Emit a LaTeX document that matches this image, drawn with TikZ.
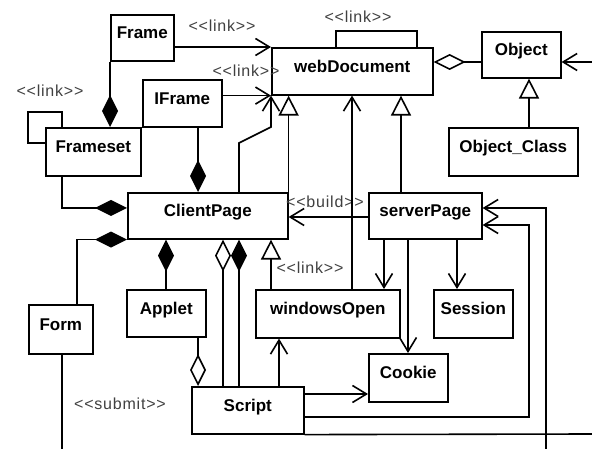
\documentclass[tikz,border=0pt]{standalone}
\usepackage{fontspec}
\setmainfont{Liberation Sans}
\newfontfamily\lblfont[LetterSpace=5]{Liberation Sans}
\usetikzlibrary{arrows.meta}
\begin{document}
\begin{tikzpicture}[x=1pt,y=-1pt, line width=1.6pt, line join=miter,
 cls/.style={draw, rectangle, inner sep=0pt, anchor=north west, font=\bfseries\fontsize{17pt}{17pt}\selectfont, text height=12pt, text depth=10pt},
 lbl/.style={inner sep=0pt, font=\lblfont\fontsize{16pt}{16pt}\selectfont, text=black!75},
 assoc/.style={-{Straight Barb[length=14pt,width=17pt]}},
 gen/.style={-{Triangle[open,length=20pt,width=20pt]}},
 comp/.style={{Diamond[length=32pt,width=16pt]}-},
 aggr/.style={{Diamond[open,length=32pt,width=16pt]}-}]
\fill[white] (0,0) rectangle (592,449);
\useasboundingbox (0,0) rectangle (592,449);
% classes
\node[cls, minimum width=63pt, minimum height=46pt] (frame) at (110,14) {Frame};
\node[cls, minimum width=161pt, minimum height=47pt] (web) at (271,47) {webDocument};
\node[cls, minimum width=79pt, minimum height=46pt] (obj) at (481,31) {Object};
\node[cls, minimum width=129pt, minimum height=48pt] (objc) at (448,127) {Object\_Class};
\node[cls, minimum width=79pt, minimum height=47pt] (iframe) at (142,79) {IFrame};
\node[cls, minimum width=95pt, minimum height=48pt] (fset) at (45,127) {Frameset};
\node[cls, minimum width=160pt, minimum height=46pt] (client) at (127,192) {ClientPage};
\node[cls, minimum width=113pt, minimum height=46pt] (server) at (368,192) {serverPage};
\node[cls, minimum width=64pt, minimum height=49pt] (form) at (28,304) {Form};
\node[cls, minimum width=79pt, minimum height=47pt] (applet) at (126,289) {Applet};
\node[cls, minimum width=144pt, minimum height=48pt] (wopen) at (255,289) {windowsOpen};
\node[cls, minimum width=79pt, minimum height=48pt] (session) at (433,289) {Session};
\node[cls, minimum width=79pt, minimum height=48pt] (cookie) at (368,353) {Cookie};
\node[cls, minimum width=112pt, minimum height=47pt] (script) at (191,386) {Script};
% labels
\node[lbl] (lk1) at (222,26) {<{}<link>{}>};
\node[lbl] (lk2) at (246,71) {<{}<link>{}>};
\node[lbl] (lk3) at (50,91) {<{}<link>{}>};
\node[lbl] (lk4) at (358,17) {<{}<link>{}>};
\node[lbl] (bld) at (325,202) {<{}<build>{}>};
\node[lbl] (lk5) at (310,268) {<{}<link>{}>};
\node[lbl] (sub) at (120,404) {<{}<submit>{}>};
% connectors
\draw[assoc] (frame.east |- web.north west) -- (web.north west);
\draw[assoc] (iframe.east |- web.south west) -- (web.south west);
\draw[assoc] (239,0 |- client.north) -- (239,143) -- (271,127) -- (web.south west);
\draw[gen] (client.north east) -- (client.north east |- web.south);
\draw[assoc] (352,0 |- wopen.north) -- (352,0 |- web.south);
\draw[gen] (401,0 |- server.north) -- (401,0 |- web.south);
\draw (336,0 |- web.north) -- (336,31) -- (417,31) -- (417,0 |- web.north);
\draw[aggr] (web.east |- 0,62) -- (obj.west |- 0,62);
\coordinate (objin) at (592,62);
\draw[assoc] (objin) -- (obj.east |- objin);
\draw[gen] (529,0 |- objc.north) -- (529,0 |- obj.south);
\draw (62,0 |- fset.north) -- (62,112) -- (28,112) -- (28,143) -- (fset.west |- 0,143);
\draw[comp] (frame.south west |- fset.north) -- (frame.south west);
\draw[comp] (client.west |- 0,208) -- (62,208) -- (62,0 |- fset.south);
\draw[comp] (198,0 |- client.north) -- (198,0 |- iframe.south);
\draw[comp] (client.south west) -- (77,0 |- client.south west) -- (77,0 |- form.north);
\coordinate (formout) at (62,449);
\draw (62,0 |- form.south) -- (formout);
\draw[comp] (166,0 |- client.south) -- (166,0 |- applet.north);
\draw[aggr] (198,0 |- script.north) -- (198,0 |- applet.south);
\draw[aggr] (223,0 |- client.south) -- (223,0 |- script.north);
\draw[comp] (239,0 |- client.south) -- (239,0 |- script.north);
\draw[gen] (271,0 |- wopen.north) -- (271,0 |- client.south);
\draw[assoc] (279,0 |- script.north) -- (279,0 |- wopen.south);
\draw[assoc] (server.west |- 0,217) -- (client.east |- 0,217);
\draw[assoc] (384,0 |- server.south) -- (384,0 |- wopen.north);
\draw[assoc] (408,0 |- server.south) -- (408,0 |- cookie.north);
\draw[assoc] (457,0 |- server.south) -- (457,0 |- session.north);
\draw[assoc] (script.east |- 0,394) -- (cookie.west |- 0,394);
\draw[assoc] (script.east |- 0,417) -- (529,417) -- (529,225) -- (server.east |- 0,225);
\coordinate (srvin) at (546,449);
\draw[assoc] (srvin) -- (546,208) -- (server.east |- 0,208);
\coordinate (scrout) at (592,434);
\draw (script.south east) -- (scrout);
\end{tikzpicture}
\end{document}
